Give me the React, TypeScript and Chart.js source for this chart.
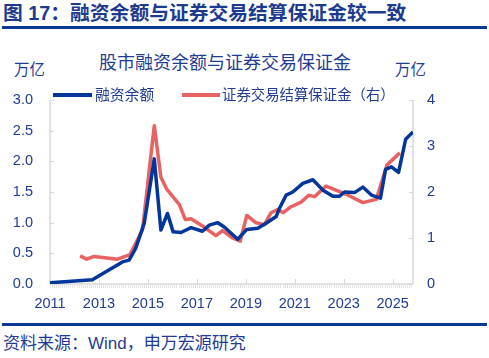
import React, { useEffect, useRef } from "react";
import { Chart, registerables } from "chart.js";
Chart.register(...registerables);

// ---- data (decimal years / 万亿) ----
const xTickYears = [2011, 2013, 2015, 2017, 2019, 2021, 2023, 2025];
const xMin = 2011;
const xMax = 2025.83;
const leftTickValues = [0, 0.5, 1, 1.5, 2, 2.5, 3];
const rightTickValues = [0, 1, 2, 3, 4];

const marginDates = [
  2011.0, 2012.73, 2013.96, 2014.23, 2014.5, 2014.85, 2015.26, 2015.53, 2015.8,
  2016.03, 2016.35, 2016.76, 2017.23, 2017.51, 2017.85, 2018.12, 2018.67,
  2019.04, 2019.49, 2019.83, 2020.24, 2020.37, 2020.65, 2020.92, 2021.33,
  2021.74, 2022.15, 2022.56, 2022.83, 2023.03, 2023.44, 2023.78, 2024.13,
  2024.5, 2024.71, 2024.95, 2025.24, 2025.53, 2025.83,
];
const marginValues = [
  0.02, 0.07, 0.36, 0.39, 0.58, 0.99, 2.04, 0.88, 1.15,
  0.85, 0.84, 0.92, 0.86, 0.96, 1.0, 0.93, 0.73,
  0.89, 0.91, 0.99, 1.1, 1.23, 1.45, 1.5, 1.64,
  1.7, 1.53, 1.43, 1.43, 1.5, 1.49, 1.58, 1.45,
  1.4, 1.87, 1.91, 1.82, 2.36, 2.48,
];

const depositDates = [
  2012.23, 2012.5, 2012.8, 2013.76, 2014.27, 2014.78, 2015.26, 2015.53, 2015.77,
  2016.05, 2016.28, 2016.53, 2016.76, 2017.23, 2017.78, 2018.05, 2018.46,
  2018.77, 2019.04, 2019.42, 2019.76, 2020.03, 2020.3, 2020.53, 2020.85,
  2021.26, 2021.57, 2021.81, 2022.28, 2023.1, 2023.78, 2024.33, 2024.77, 2025.29,
];
const depositValues = [
  0.61, 0.54, 0.6, 0.54, 0.64, 1.18, 3.44, 2.32, 2.06,
  1.88, 1.73, 1.4, 1.42, 1.26, 1.05, 1.16, 1.0,
  0.93, 1.49, 1.33, 1.29, 1.55, 1.62, 1.55, 1.68,
  1.78, 1.93, 1.9, 2.13, 1.95, 1.77, 1.84, 2.59, 2.85,
];

const seriesNames = ["融资余额", "证券交易结算保证金（右）"];
const pageTitle = "图 17：融资余额与证券交易结算保证金较一致";
const chartTitle = "股市融资余额与证券交易保证金";
const unitLabel = "万亿";
const sourceText = "资料来源：Wind，申万宏源研究";

const NAVY = "#1f3c92";
const RULE = "#0a3a96";
const BLUE = "#03369b";
const RED = "#e96262";
const AXIS = "#d9d9d9";
const FONT = '"Liberation Sans", "Noto Sans CJK SC", sans-serif';

const axisPlugin = {
  id: "innerAxes",
  beforeDatasetsDraw(chart: any) {
    const { ctx, chartArea: a, scales } = chart;
    ctx.save();
    ctx.strokeStyle = AXIS;
    ctx.lineWidth = 1.5;
    ctx.beginPath();
    ctx.moveTo(a.left, a.top);
    ctx.lineTo(a.left, a.bottom);
    ctx.moveTo(a.right, a.top);
    ctx.lineTo(a.right, a.bottom);
    ctx.moveTo(a.left, a.bottom);
    ctx.lineTo(a.right, a.bottom);
    ctx.stroke();
    ctx.lineWidth = 1;
    ctx.beginPath();
    leftTickValues.forEach((v) => {
      const y = Math.round(scales.y.getPixelForValue(v)) + 0.5;
      ctx.moveTo(a.left, y);
      ctx.lineTo(a.left + 4, y);
    });
    rightTickValues.forEach((v) => {
      const y = Math.round(scales.y1.getPixelForValue(v)) + 0.5;
      ctx.moveTo(a.right, y);
      ctx.lineTo(a.right - 4, y);
    });
    xTickYears.forEach((v) => {
      const x = Math.round(scales.x.getPixelForValue(v)) + 0.5;
      ctx.moveTo(x, a.bottom);
      ctx.lineTo(x, a.bottom - 5);
    });
    ctx.stroke();
    ctx.strokeStyle = "#e2e2e2";
    ctx.beginPath();
    for (let m = 0; xMin + m / 12 <= xMax; m++) {
      const x = Math.round(scales.x.getPixelForValue(xMin + m / 12)) + 0.5;
      ctx.moveTo(x, a.bottom);
      ctx.lineTo(x, a.bottom + 4);
    }
    ctx.stroke();
    ctx.restore();
  },
};

const tickFont = { family: FONT, size: 14.5 };

export default function App() {
  const ref = useRef<HTMLCanvasElement | null>(null);

  useEffect(() => {
    if (!ref.current) return;
    const chart = new Chart(ref.current, {
      type: "line",
      data: {
        datasets: [
          {
            label: seriesNames[0],
            data: marginDates.map((d, i) => ({ x: d, y: marginValues[i] })),
            borderColor: BLUE,
            backgroundColor: BLUE,
            borderWidth: 3.5,
            pointRadius: 0,
            tension: 0,
            yAxisID: "y",
            borderJoinStyle: "round",
          },
          {
            label: seriesNames[1],
            data: depositDates.map((d, i) => ({ x: d, y: depositValues[i] })),
            borderColor: RED,
            backgroundColor: RED,
            borderWidth: 3.5,
            pointRadius: 0,
            tension: 0,
            yAxisID: "y1",
            borderJoinStyle: "round",
          },
        ],
      },
      options: {
        animation: false,
        responsive: false,
        maintainAspectRatio: false,
        layout: { padding: { top: 20, left: 0, right: 0, bottom: 0 } },
        plugins: {
          legend: { display: false },
          title: { display: false },
          tooltip: { enabled: false },
        },
        scales: {
          x: {
            type: "linear",
            min: xMin,
            max: xMax,
            afterBuildTicks: (s: any) => {
              s.ticks = xTickYears.map((v) => ({ value: v }));
            },
            afterFit: (s: any) => {
              s.height = 36;
              s.paddingLeft = 0;
              s.paddingRight = 0;
            },
            grid: { display: false, drawTicks: false },
            border: { display: false },
            ticks: {
              color: NAVY,
              font: tickFont,
              padding: 11,
              maxRotation: 0,
              autoSkip: false,
              callback: (v: any) => String(v),
            },
          },
          y: {
            position: "left",
            min: 0,
            max: 3,
            afterBuildTicks: (s: any) => {
              s.ticks = leftTickValues.map((v) => ({ value: v }));
            },
            afterFit: (s: any) => {
              s.width = 50;
              s.paddingTop = 0;
              s.paddingBottom = 0;
            },
            grid: { display: false, drawTicks: false },
            border: { display: false },
            ticks: {
              color: NAVY,
              font: tickFont,
              padding: 17,
              callback: (v: any) => Number(v).toFixed(1),
            },
          },
          y1: {
            position: "right",
            min: 0,
            max: 4,
            afterBuildTicks: (s: any) => {
              s.ticks = rightTickValues.map((v) => ({ value: v }));
            },
            afterFit: (s: any) => {
              s.width = 76;
              s.paddingTop = 0;
              s.paddingBottom = 0;
            },
            grid: { display: false, drawTicks: false },
            border: { display: false },
            ticks: {
              color: NAVY,
              font: tickFont,
              padding: 14,
              callback: (v: any) => String(v),
            },
          },
        },
      },
      plugins: [axisPlugin],
    } as any);
    return () => chart.destroy();
  }, []);

  const text = (style: React.CSSProperties): React.CSSProperties => ({
    position: "absolute",
    whiteSpace: "nowrap",
    fontFamily: FONT,
    color: NAVY,
    lineHeight: 1,
    ...style,
  });

  return (
    <div
      style={{
        position: "absolute",
        left: 0,
        top: 0,
        width: 489,
        height: 358,
        background: "#fff",
        overflow: "hidden",
      }}
    >
      <div style={text({ left: 3, top: 4, fontSize: 19.8, fontWeight: 700, color: "#1c3a8e" })}>
        {pageTitle}
      </div>
      <div style={{ position: "absolute", left: 2, top: 26, width: 485, height: 2.5, background: RULE }} />

      <div style={text({ left: 0, width: 450, top: 54, fontSize: 18, textAlign: "center" })}>{chartTitle}</div>
      <div style={text({ left: 14, top: 62, fontSize: 15.5 })}>{unitLabel}</div>
      <div style={text({ left: 395, top: 62, fontSize: 15.5 })}>{unitLabel}</div>

      <canvas ref={ref} width={489} height={240} style={{ position: "absolute", left: 0, top: 80, width: 489, height: 240 }} />

      <div style={{ position: "absolute", left: 53, top: 93, width: 39, height: 4, background: BLUE }} />
      <div style={text({ left: 95, top: 88, fontSize: 14.8 })}>{seriesNames[0]}</div>
      <div style={{ position: "absolute", left: 182, top: 93, width: 38, height: 4, background: RED }} />
      <div style={text({ left: 222, top: 88, fontSize: 14.4 })}>{seriesNames[1]}</div>

      <div style={{ position: "absolute", left: 2, top: 323, width: 485, height: 2.5, background: RULE }} />
      <div style={text({ left: 3, top: 335, fontSize: 17 })}>{sourceText}</div>
    </div>
  );
}
